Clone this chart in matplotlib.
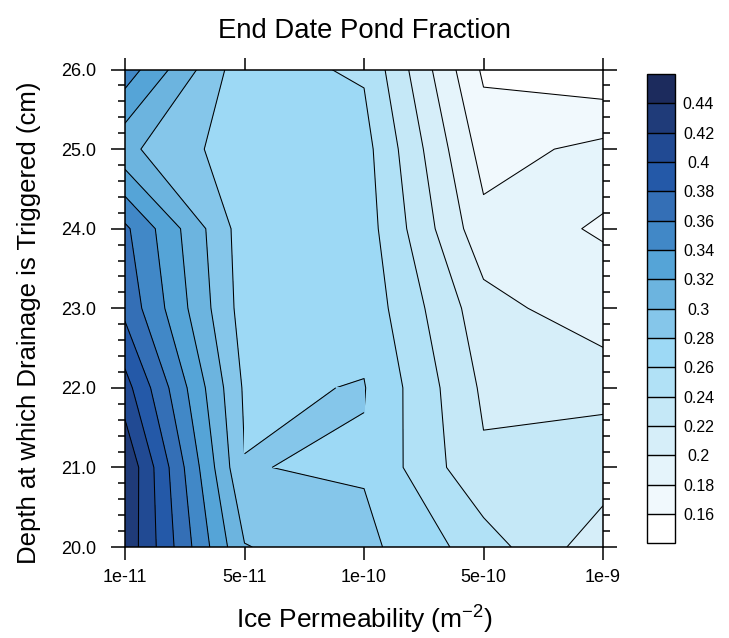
import numpy as np
import matplotlib
matplotlib.use('Agg')
import matplotlib.pyplot as plt
from matplotlib.colors import ListedColormap, BoundaryNorm
from matplotlib.ticker import MultipleLocator, FormatStrFormatter
from matplotlib.tri import Triangulation

plt.rcParams['font.family'] = ['Liberation Sans', 'DejaVu Sans']
plt.rcParams['mathtext.fontset'] = 'custom'
plt.rcParams['mathtext.rm'] = 'Liberation Sans'

# Ice permeability runs (m^-2), plotted as evenly spaced categories
permeability = ['1e-11', '5e-11', '1e-10', '5e-10', '1e-9']
# Depth at which drainage is triggered (cm)
depth = [20.0, 21.0, 22.0, 23.0, 24.0, 25.0, 26.0]

# End date pond fraction: one row per depth, one column per permeability
frac_20 = [0.435, 0.301, 0.2855, 0.250, 0.207]
frac_21 = [0.438, 0.2806, 0.278, 0.223, 0.232]
frac_22 = [0.408, 0.2771, 0.2809, 0.2166, 0.214]
frac_23 = [0.3745, 0.2709, 0.2732, 0.208, 0.1865]
frac_24 = [0.364, 0.2693, 0.270, 0.186, 0.1787]
frac_25 = [0.305, 0.2673, 0.2673, 0.172, 0.1855]
frac_26 = [0.351, 0.266, 0.2578, 0.1566, 0.1447]

# contour levels and fill colours (below 0.16 ... above 0.44)
levels = np.round(np.arange(0.16, 0.441, 0.02), 2)
fill_colors = ['#ffffff', '#f1f9fd', '#e5f4fb', '#d6eef9', '#c5e8f7',
               '#b1e1f6', '#9dd9f5', '#85c6ea', '#6cb4df', '#55a4d7',
               '#4188c7', '#346fb6', '#2459a8', '#214a93', '#1f3b79',
               '#1c2b5d']

z = np.array([frac_20, frac_21, frac_22, frac_23, frac_24, frac_25, frac_26])
x = np.arange(len(permeability))
y = np.array(depth)

cmap = ListedColormap(fill_colors[1:-1])
cmap.set_under(fill_colors[0])
cmap.set_over(fill_colors[-1])
norm = BoundaryNorm(levels, cmap.N)

fig = plt.figure(figsize=(7.29, 6.38), dpi=100)
ax = fig.add_axes([0.1715, 0.1426, 0.6557, 0.7484])

cf = ax.contourf(x, y, z, levels=levels, cmap=cmap, norm=norm,
                 extend='both', zorder=1)
ax.contour(x, y, z, levels=levels, colors='k', linewidths=0.75, zorder=2)

# The 0.28 tongue reaching from 5e-11 towards 1e-10 passes through a saddle
# cell; redraw that cell split along its high diagonal so the tongue stays whole.
i, j = 1, 1
cell_x = [x[j], x[j + 1], x[j + 1], x[j]]
cell_y = [y[i], y[i], y[i + 1], y[i + 1]]
cell_z = [z[i, j], z[i, j + 1], z[i + 1, j + 1], z[i + 1, j]]
tri = Triangulation(cell_x, cell_y, [[0, 1, 2], [0, 2, 3]])
ax.tricontourf(tri, cell_z, levels=levels, cmap=cmap, norm=norm,
               extend='both', zorder=3)
ax.tricontour(tri, cell_z, levels=levels, colors='k', linewidths=0.75, zorder=4)

ax.set_xlim(x[0], x[-1])
ax.set_ylim(y[0], y[-1])
ax.set_xticks(x)
ax.set_xticklabels(permeability)
ax.set_yticks(y)
ax.yaxis.set_major_formatter(FormatStrFormatter('%.1f'))
ax.yaxis.set_minor_locator(MultipleLocator(0.2))
ax.tick_params(which='both', direction='out', top=True, right=True,
               width=1.1, labelsize=13)
ax.tick_params(axis='y', which='major', length=10, pad=11)
ax.tick_params(axis='x', which='major', length=9, pad=7)
ax.tick_params(which='minor', length=5)
for spine in ax.spines.values():
    spine.set_linewidth(1.1)

ax.set_xlabel(r'Ice Permeability (m$\mathregular{^{-2}}$)', fontsize=19)
ax.xaxis.set_label_coords(0.5, -0.118)
ax.set_ylabel('Depth at which Drainage is Triggered (cm)', fontsize=18.5)
ax.yaxis.set_label_coords(-0.175, 0.47)
fig.text(364 / 729, 1 - 38 / 638, 'End Date Pond Fraction',
         ha='center', va='baseline', fontsize=19.8)

# Colour bar with square end boxes and labels on the level boundaries
cax = fig.add_axes([0.887, 0.1484, 0.0388, 0.7356])
cb = fig.colorbar(cf, cax=cax, extendrect=True, extendfrac='auto',
                  drawedges=True)
cb.set_ticks(levels)
cb.set_ticklabels([f'{v:g}' for v in levels])
cb.outline.set_linewidth(1.0)
cb.dividers.set_color('k')
cb.dividers.set_linewidth(1.0)
cb.ax.tick_params(length=0, labelsize=11.5, pad=17)
for label in cb.ax.get_yticklabels():
    label.set_horizontalalignment('center')

fig.savefig('out.png', dpi=100)
plt.close(fig)
